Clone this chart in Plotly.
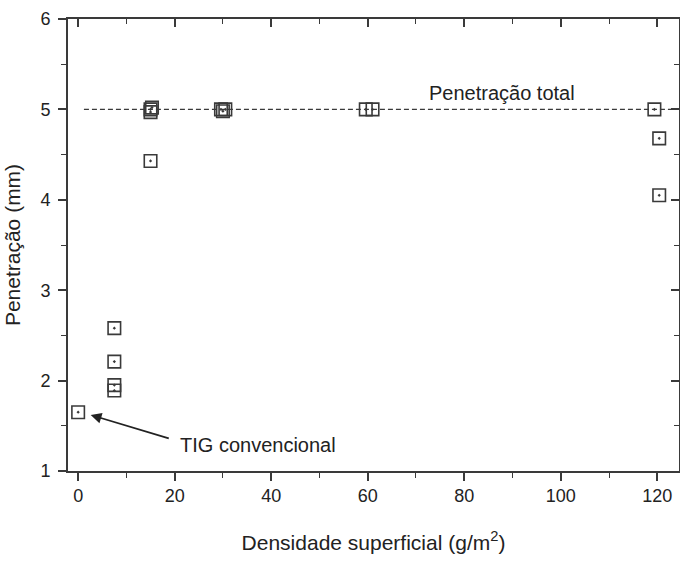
import plotly.graph_objects as go

# Data
densidade = [0, 7.5, 7.5, 7.5, 7.5, 15, 15, 15, 15.3, 29.6, 30, 30.5, 59.6, 61, 119.4, 120.4, 120.4]
penetracao = [1.65, 2.58, 2.21, 1.95, 1.89, 4.43, 4.97, 5.0, 5.02, 5.0, 4.98, 5.0, 5.0, 5.0, 5.0, 4.68, 4.05]
penetracao_total = 5.0
linha_x = [1.2, 124.5]

x_ticks = [0, 20, 40, 60, 80, 100, 120]
y_ticks = [1, 2, 3, 4, 5, 6]

INK = "#3a3a3a"
FONT = "Liberation Sans, Arial, sans-serif"

fig = go.Figure()

fig.add_trace(go.Scatter(
    x=linha_x, y=[penetracao_total] * len(linha_x), mode="lines",
    line=dict(color=INK, width=1.2, dash="5px,3px"), showlegend=False, hoverinfo="skip"))

fig.add_trace(go.Scatter(
    x=densidade, y=penetracao, mode="markers",
    marker=dict(symbol="square-dot", size=12.5, color="rgba(0,0,0,0)",
                line=dict(color=INK, width=1.6)),
    showlegend=False))

# invisible trace on overlay axis for top ticks
fig.add_trace(go.Scatter(x=[None], y=[None], xaxis="x2", yaxis="y2", showlegend=False))

fig.add_annotation(x=2.6, y=1.62, ax=19.4, ay=1.35, axref="x", ayref="y",
                   xref="x", yref="y", text=" ", showarrow=True,
                   arrowhead=2, arrowsize=1.2, arrowwidth=1.8, arrowcolor="#222")
fig.add_annotation(x=20.6, y=1.29, xref="x", yref="y", text="TIG convencional",
                   showarrow=False, xanchor="left", yanchor="middle",
                   font=dict(family=FONT, size=20, color="#222"))
fig.add_annotation(x=87.8, y=5.18, xref="x", yref="y", text="Penetração total",
                   showarrow=False, xanchor="center", yanchor="middle",
                   font=dict(family=FONT, size=20, color="#222"))

fig.update_layout(
    width=680, height=562,
    margin=dict(l=68, r=1, t=19, b=91),
    paper_bgcolor="white", plot_bgcolor="white",
    font=dict(family=FONT, color="#222"),
    xaxis=dict(range=[-2.1, 124.5], tickvals=x_ticks, ticks="outside", ticklen=8,
               tickwidth=1.5, tickcolor=INK, showline=True, linecolor=INK, linewidth=1.6,
               showgrid=False, zeroline=False, tickfont=dict(size=18, color="#222"),
               minor=dict(dtick=10, tick0=0, ticks="outside", ticklen=5, tickwidth=1.3,
                          tickcolor=INK, showgrid=False),
               title=dict(text="Densidade superficial (g/m<sup>2</sup>)",
                          font=dict(size=21, color="#222"), standoff=30)),
    yaxis=dict(range=[1, 6], tickvals=y_ticks, ticks="outside", ticklen=8,
               tickwidth=1.5, tickcolor=INK, showline=True, linecolor=INK, linewidth=1.6,
               showgrid=False, zeroline=False, tickfont=dict(size=18, color="#222"),
               ticklabelstandoff=4,
               minor=dict(dtick=0.5, tick0=1, ticks="outside", ticklen=5, tickwidth=1.3,
                          tickcolor=INK, showgrid=False),
               title=dict(text="Penetração (mm)", font=dict(size=21, color="#222"),
                          standoff=14)),
    xaxis2=dict(range=[-2.1, 124.5], overlaying="x", side="top", tickvals=x_ticks,
                ticks="inside", ticklen=8, tickwidth=1.5, tickcolor=INK,
                showticklabels=False, showline=True, linecolor=INK, linewidth=1.6,
                showgrid=False, zeroline=False,
                minor=dict(dtick=10, tick0=0, ticks="inside", ticklen=5, tickwidth=1.3,
                           tickcolor=INK, showgrid=False)),
    yaxis2=dict(range=[1, 6], overlaying="y", side="right", tickvals=y_ticks,
                ticks="inside", ticklen=8, tickwidth=1.5, tickcolor=INK,
                showticklabels=False, showline=True, linecolor=INK, linewidth=1.6,
                showgrid=False, zeroline=False,
                minor=dict(dtick=0.5, tick0=1, ticks="inside", ticklen=5, tickwidth=1.3,
                           tickcolor=INK, showgrid=False)),
)

fig.write_html("out.html")
